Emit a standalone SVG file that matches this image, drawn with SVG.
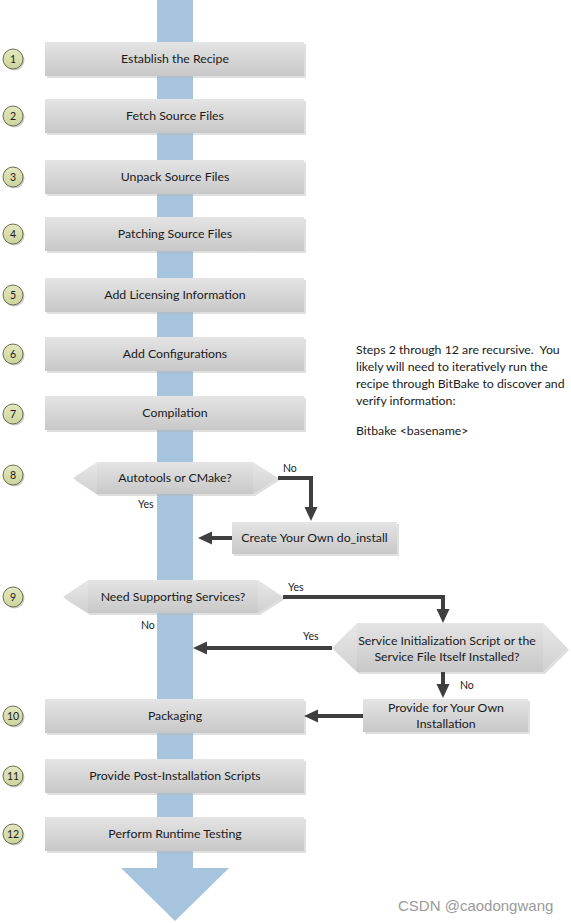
<svg xmlns="http://www.w3.org/2000/svg" width="571" height="923" viewBox="0 0 571 923">
<defs>
<linearGradient id="gBox" x1="0" y1="0" x2="0" y2="1">
<stop offset="0" stop-color="#e4e4e4"/>
<stop offset="1" stop-color="#c8c8c8"/>
</linearGradient>
<linearGradient id="gCirc" x1="0" y1="0" x2="0" y2="1">
<stop offset="0" stop-color="#e3e8bf"/>
<stop offset="1" stop-color="#cdd49c"/>
</linearGradient>
<marker id="ah" markerUnits="userSpaceOnUse" markerWidth="16" markerHeight="14" viewBox="0 -7 15 14" refX="0" refY="0" orient="auto">
<path d="M0,-6.5 L14,0 L0,6.5 Z" fill="#3f3f3f"/>
</marker>
</defs>
<style>
.box{fill:url(#gBox);}
.shadow{fill:#b8b8b8;opacity:0.45;}
.facet{fill:#ffffff;opacity:0.15;}
.circ{fill:url(#gCirc);stroke:#6e6e52;stroke-width:1;}
.cshadow{fill:#9a9a9a;opacity:0.5;}
.t{font-family:Lato,"Liberation Sans",sans-serif;font-size:12.3px;fill:#1a1a1a;text-anchor:middle;}
.n{font-family:Lato,"Liberation Sans",sans-serif;font-size:10.5px;fill:#1a1a1a;text-anchor:middle;}
.lbl{font-family:Lato,"Liberation Sans",sans-serif;font-size:10.5px;fill:#1a1a1a;}
.note{font-family:Lato,"Liberation Sans",sans-serif;font-size:12.3px;fill:#1a1a1a;white-space:pre;}
.conn{fill:none;stroke:#3f3f3f;stroke-width:4;marker-end:url(#ah);}
</style>
<rect width="571" height="923" fill="#ffffff"/>

<g id="flow-arrow">
<rect x="157" y="0" width="36" height="869" fill="#a7c4df"/>
<polygon points="121,868 229,868 175,921" fill="#a7c4df"/>
</g>

<g id="step1"><circle class="cshadow" cx="14.5" cy="60.5" r="10"/><circle class="circ" cx="13" cy="59" r="10"/><text class="n" x="13" y="62.5">1</text>
<rect class="shadow" x="47" y="44" width="259" height="34"/><rect class="box" x="45" y="42" width="259" height="34"/><text class="t" x="175" y="63">Establish the Recipe</text></g>

<g id="step2"><circle class="cshadow" cx="14.5" cy="117.5" r="10"/><circle class="circ" cx="13" cy="116" r="10"/><text class="n" x="13" y="119.5">2</text>
<rect class="shadow" x="47" y="101" width="259" height="34"/><rect class="box" x="45" y="99" width="259" height="34"/><text class="t" x="175" y="120">Fetch Source Files</text></g>

<g id="step3"><circle class="cshadow" cx="14.5" cy="178.5" r="10"/><circle class="circ" cx="13" cy="177" r="10"/><text class="n" x="13" y="180.5">3</text>
<rect class="shadow" x="47" y="162" width="259" height="34"/><rect class="box" x="45" y="160" width="259" height="34"/><text class="t" x="175" y="181">Unpack Source Files</text></g>

<g id="step4"><circle class="cshadow" cx="14.5" cy="235.5" r="10"/><circle class="circ" cx="13" cy="234" r="10"/><text class="n" x="13" y="237.5">4</text>
<rect class="shadow" x="47" y="219" width="259" height="34"/><rect class="box" x="45" y="217" width="259" height="34"/><text class="t" x="175" y="238">Patching Source Files</text></g>

<g id="step5"><circle class="cshadow" cx="14.5" cy="296.5" r="10"/><circle class="circ" cx="13" cy="295" r="10"/><text class="n" x="13" y="298.5">5</text>
<rect class="shadow" x="47" y="280" width="259" height="34"/><rect class="box" x="45" y="278" width="259" height="34"/><text class="t" x="175" y="299">Add Licensing Information</text></g>

<g id="step6"><circle class="cshadow" cx="14.5" cy="355.5" r="10"/><circle class="circ" cx="13" cy="354" r="10"/><text class="n" x="13" y="357.5">6</text>
<rect class="shadow" x="47" y="339" width="259" height="34"/><rect class="box" x="45" y="337" width="259" height="34"/><text class="t" x="175" y="358">Add Configurations</text></g>

<g id="step7"><circle class="cshadow" cx="14.5" cy="415.5" r="10"/><circle class="circ" cx="13" cy="414" r="10"/><text class="n" x="13" y="417.5">7</text>
<rect class="shadow" x="47" y="398" width="259" height="34"/><rect class="box" x="45" y="396" width="259" height="34"/><text class="t" x="175" y="417">Compilation</text></g>

<g id="step8"><circle class="cshadow" cx="14.5" cy="476.5" r="10"/><circle class="circ" cx="13" cy="475" r="10"/><text class="n" x="13" y="478.5">8</text>
<polygon class="shadow" points="75,480 99,465 255,465 280,480 255,496 99,496"/>
<polygon class="box" points="73,478 97,462 253,462 278,478 253,494 97,494"/>
<polygon class="facet" points="73,478 97,462 97,494"/><polygon class="facet" points="278,478 253,462 253,494"/>
<text class="t" x="175" y="482">Autotools or CMake?</text></g>

<g id="do-install">
<rect class="shadow" x="234" y="524" width="165" height="32"/><rect class="box" x="232" y="522" width="165" height="32"/><text class="t" x="314.5" y="542">Create Your Own do_install</text></g>

<g id="step9"><circle class="cshadow" cx="14.5" cy="598.5" r="10"/><circle class="circ" cx="13" cy="597" r="10"/><text class="n" x="13" y="600.5">9</text>
<polygon class="shadow" points="65,599 90,582 260,582 285,599 260,615 90,615"/>
<polygon class="box" points="63,597 88,580 258,580 283,597 258,613 88,613"/>
<polygon class="facet" points="63,597 88,580 88,613"/><polygon class="facet" points="283,597 258,580 258,613"/>
<text class="t" x="173" y="601">Need Supporting Services?</text></g>

<g id="service-check">
<polygon class="shadow" points="334,650 359,625 545,625 569,650 545,674 359,674"/>
<polygon class="box" points="332,648 357,623 543,623 567,648 543,672 357,672"/>
<polygon class="facet" points="332,648 357,623 357,672"/><polygon class="facet" points="567,648 543,623 543,672"/>
<text class="t" x="447" y="645">Service Initialization Script or the</text>
<text class="t" x="447" y="661">Service File Itself Installed?</text></g>

<g id="own-install">
<rect class="shadow" x="365" y="701" width="165" height="33"/><rect class="box" x="363" y="699" width="165" height="33"/>
<text class="t" x="446" y="712">Provide for Your Own</text><text class="t" x="446" y="728">Installation</text></g>

<g id="step10"><circle class="cshadow" cx="14.5" cy="717.5" r="10"/><circle class="circ" cx="13" cy="716" r="10"/><text class="n" x="13" y="719.5">10</text>
<rect class="shadow" x="47" y="701" width="259" height="34"/><rect class="box" x="45" y="699" width="259" height="34"/><text class="t" x="175" y="720">Packaging</text></g>

<g id="step11"><circle class="cshadow" cx="14.5" cy="777.5" r="10"/><circle class="circ" cx="13" cy="776" r="10"/><text class="n" x="13" y="779.5">11</text>
<rect class="shadow" x="47" y="761" width="259" height="34"/><rect class="box" x="45" y="759" width="259" height="34"/><text class="t" x="175" y="780">Provide Post-Installation Scripts</text></g>

<g id="step12"><circle class="cshadow" cx="14.5" cy="835.5" r="10"/><circle class="circ" cx="13" cy="834" r="10"/><text class="n" x="13" y="837.5">12</text>
<rect class="shadow" x="47" y="819" width="259" height="34"/><rect class="box" x="45" y="817" width="259" height="34"/><text class="t" x="175" y="838">Perform Runtime Testing</text></g>

<g id="connectors">
<path class="conn" d="M278,478 H311 V507"/>
<path class="conn" d="M232,538 H212"/>
<path class="conn" d="M283,597 H443 V609"/>
<path class="conn" d="M332,648 H207"/>
<path class="conn" d="M443,672 V684"/>
<path class="conn" d="M363,716 H318"/>
<text class="lbl" x="283" y="472">No</text>
<text class="lbl" x="138" y="508">Yes</text>
<text class="lbl" x="288" y="591">Yes</text>
<text class="lbl" x="141" y="629">No</text>
<text class="lbl" x="303" y="640">Yes</text>
<text class="lbl" x="460" y="689">No</text>
</g>

<g id="note">
<text class="note" x="356" y="354" xml:space="preserve">Steps 2 through 12 are recursive.  You</text>
<text class="note" x="356" y="371">likely will need to iteratively run the</text>
<text class="note" x="356" y="388">recipe through BitBake to discover and</text>
<text class="note" x="356" y="405">verify information:</text>
<text class="note" x="356" y="435">Bitbake &lt;basename&gt;</text>
</g>

<text x="398" y="911" font-family="'Liberation Sans',sans-serif" font-size="15" fill="#9a9a9a">CSDN @caodongwang</text>
</svg>
